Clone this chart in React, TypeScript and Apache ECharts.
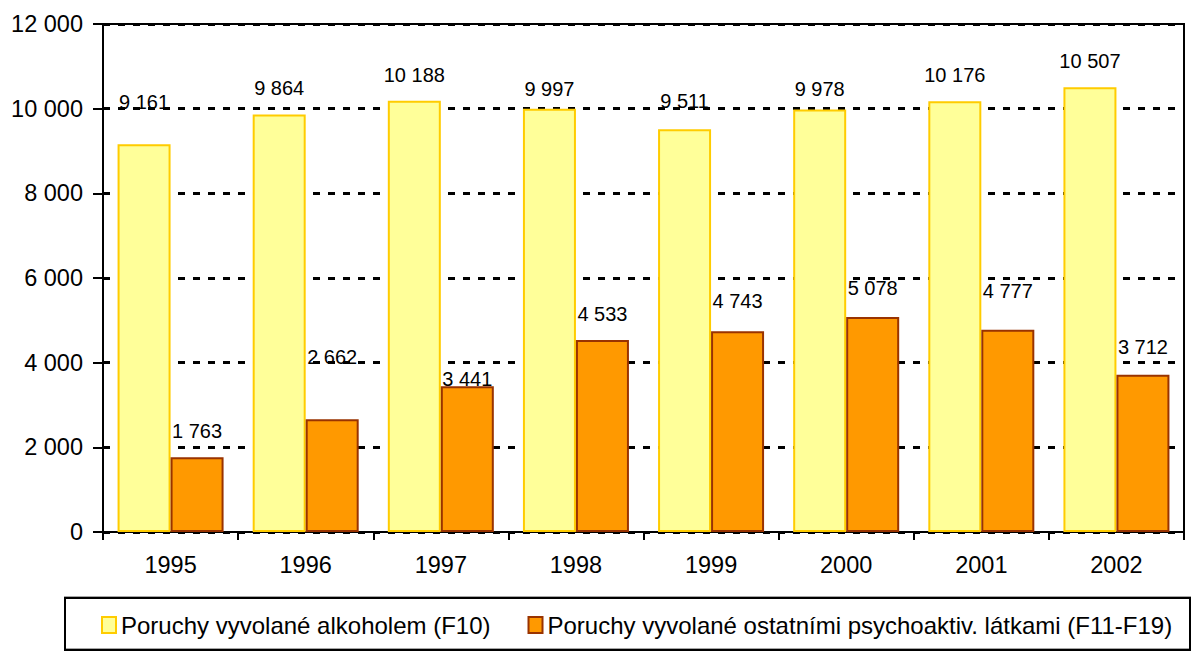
import React, { useEffect, useRef } from "react";
import * as echarts from "echarts";

const years = ["1995", "1996", "1997", "1998", "1999", "2000", "2001", "2002"];
const alcohol = [9161, 9864, 10188, 9997, 9511, 9978, 10176, 10507];
const otherSubstances = [1763, 2662, 3441, 4533, 4743, 5078, 4777, 3712];
const seriesNames = [
  "Poruchy vyvolané alkoholem (F10)",
  "Poruchy vyvolané ostatními psychoaktiv. látkami (F11-F19)",
];
// label vertical nudges (style only)
const alcoholLabelNudge = [-16, 0, 0, 6, -2, 5, 0, 0];
const otherLabelNudge = [0, -36, 19, 0, -4, -3, -13, -2];

const fmt = (v: number) => String(v).replace(/\B(?=(\d{3})+(?!\d))/g, " ");
const FONT = "Liberation Sans, Arial, sans-serif";

export default function App() {
  const ref = useRef<HTMLDivElement>(null);
  useEffect(() => {
    document.body.style.margin = "0";
    const chart = echarts.init(ref.current!, null, { renderer: "svg" });
    chart.setOption({
      animation: false,
      backgroundColor: "#fff",
      textStyle: { fontFamily: FONT },
      grid: {
        left: 103,
        right: 10,
        top: 24,
        bottom: 122,
        show: true,
        borderColor: "#000",
        borderWidth: 2,
        containLabel: false,
      },
      graphic: [
        {
          type: "rect",
          shape: { x: 65, y: 598, width: 1125, height: 52 },
          style: {
            fill: "none",
            stroke: "#000",
            lineWidth: 2,
            shadowColor: "rgba(0,0,0,0.35)",
            shadowOffsetX: 0,
            shadowOffsetY: -1,
            shadowBlur: 1,
          },
          z: 0,
        },
      ],
      legend: {
        left: 96,
        top: 608,
        itemWidth: 14,
        itemHeight: 16,
        itemGap: 37,
        icon: "rect",
        textStyle: { fontSize: 24, color: "#000", fontFamily: FONT },
        data: seriesNames,
      },
      xAxis: {
        type: "category",
        data: years,
        axisLine: { lineStyle: { color: "#000", width: 2 } },
        axisTick: { show: true, length: 8, lineStyle: { color: "#000", width: 2 } },
        axisLabel: { fontSize: 23.5, color: "#000", margin: 21, fontFamily: FONT },
      },
      yAxis: {
        type: "value",
        min: 0,
        max: 12000,
        interval: 2000,
        axisLine: { show: true, lineStyle: { color: "#000", width: 2 } },
        axisTick: { show: true, length: 10, lineStyle: { color: "#000", width: 2 } },
        axisLabel: {
          fontSize: 23.5,
          color: "#000",
          margin: 20,
          fontFamily: FONT,
          formatter: (v: number) => fmt(v),
        },
        splitLine: {
          show: true,
          lineStyle: { color: "#000", width: 3, type: [7, 8] },
        },
      },
      series: [
        {
          name: seriesNames[0],
          type: "bar",
          barWidth: 53,
          barGap: "0%",
          itemStyle: { color: "#FFFF99", borderColor: "#FFCC00", borderWidth: 2 },
          label: {
            show: true,
            position: "top",
            distance: 16,
            fontSize: 20,
            color: "#000",
            fontFamily: FONT,
            formatter: (p: any) => fmt(p.value),
          },
          data: alcohol.map((v, i) => ({ value: v, label: { offset: [0, alcoholLabelNudge[i]] } })),
        },
        {
          name: seriesNames[1],
          type: "bar",
          barWidth: 53,
          barGap: "0%",
          itemStyle: { color: "#FF9900", borderColor: "#993300", borderWidth: 2 },
          label: {
            show: true,
            position: "top",
            distance: 16,
            fontSize: 20,
            color: "#000",
            fontFamily: FONT,
            formatter: (p: any) => fmt(p.value),
          },
          data: otherSubstances.map((v, i) => ({ value: v, label: { offset: [0, otherLabelNudge[i]] } })),
        },
      ],
    });
    return () => chart.dispose();
  }, []);
  return <div ref={ref} style={{ width: 1194, height: 654 }} />;
}
